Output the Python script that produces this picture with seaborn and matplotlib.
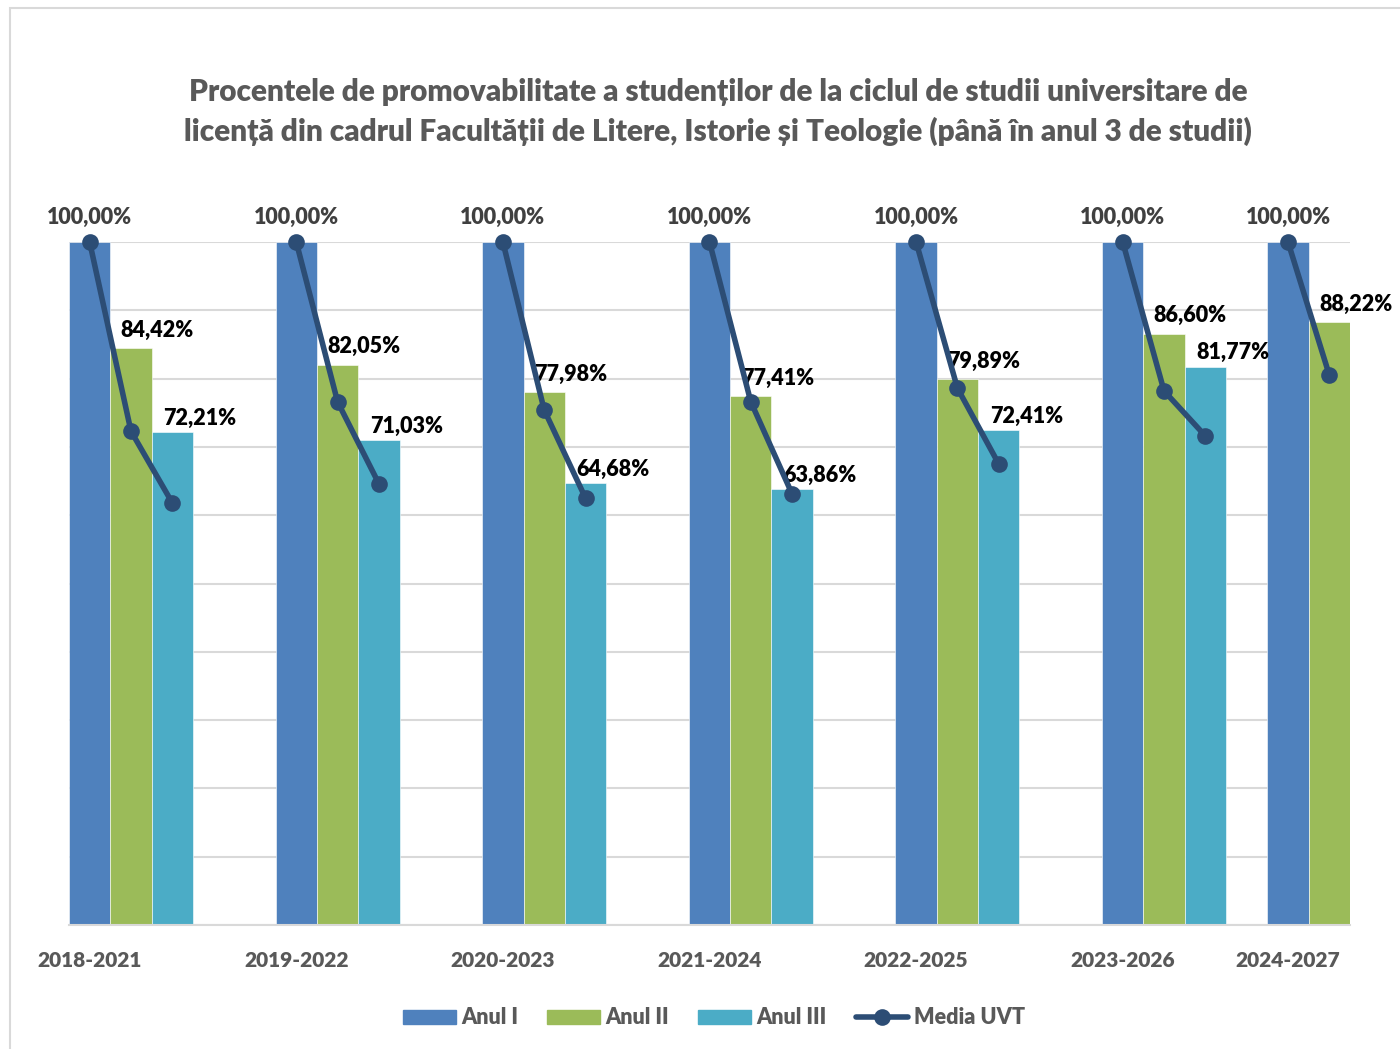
import numpy as np
import pandas as pd
import seaborn as sns
import matplotlib.pyplot as plt
from matplotlib.patches import Patch, Rectangle
from matplotlib.lines import Line2D

# date
perioade = ['2018-2021', '2019-2022', '2020-2023', '2021-2024', '2022-2025', '2023-2026', '2024-2027']
serii = ['Anul I', 'Anul II', 'Anul III']
anul_i = [100.00, 100.00, 100.00, 100.00, 100.00, 100.00, 100.00]
anul_ii = [84.42, 82.05, 77.98, 77.41, 79.89, 86.60, 88.22]
anul_iii = [72.21, 71.03, 64.68, 63.86, 72.41, 81.77, np.nan]
# media UVT (linia), pe fiecare an de studiu
media_i = [100, 100, 100, 100, 100, 100, 100]
media_ii = [72.3, 76.6, 75.4, 76.6, 78.6, 78.2, 80.5]
media_iii = [61.8, 64.6, 62.5, 63.1, 67.5, 71.6, np.nan]

culori = {'Anul I': '#4F81BD', 'Anul II': '#9BBB59', 'Anul III': '#4BACC6'}
culoare_linie = '#2C4D75'
gri = '#595959'
GR = 'heavy'

sns.set_style('white')
plt.rcParams['font.family'] = ['Lato', 'DejaVu Sans']
plt.rcParams['font.weight'] = GR

# pozitiile grupelor: 5 unitati intre grupe, ultima grupa (fara Anul III) mai apropiata
pos_grup = np.arange(len(perioade)) * 5
pos_grup[-1] -= 1

rows = []
linie = []
for i in range(len(perioade)):
    for j, (vals, med) in enumerate(zip([anul_i, anul_ii, anul_iii], [media_i, media_ii, media_iii])):
        if np.isnan(vals[i]):
            continue
        rows.append({'x': pos_grup[i] + j, 'val': vals[i], 'serie': serii[j]})
        linie.append({'x': pos_grup[i] + j, 'val': med[i], 'grup': i})
df = pd.DataFrame(rows)
dm = pd.DataFrame(linie)

fig = plt.figure(figsize=(14, 10.49), dpi=100)
ax = fig.add_axes([69 / 1400, 1 - 925 / 1049, (1350 - 69) / 1400, (925 - 242) / 1049])

ax.set_axisbelow(True)
ax.yaxis.grid(True, color='#D9D9D9', lw=1.5)
sns.barplot(data=df, x='x', y='val', hue='serie', palette=culori, native_scale=True,
            dodge=False, width=1.0, errorbar=None, saturation=1, legend=False,
            edgecolor='white', linewidth=0.4, ax=ax)
sns.lineplot(data=dm, x='x', y='val', units='grup', estimator=None, sort=False,
             color=culoare_linie, lw=4, marker='o', markersize=12, markeredgewidth=0,
             clip_on=False, legend=False, ax=ax, zorder=5)

ax.set_xlim(-0.5, 30.5)
ax.set_ylim(0, 100)
ax.set_yticks(np.arange(0, 101, 10))
ax.set_yticklabels([])
ax.set_xticks(pos_grup)
ax.set_xticklabels(perioade, fontsize=15, fontweight=GR, color=gri)
ax.tick_params(axis='both', length=0)
ax.tick_params(axis='x', pad=19)
ax.set_xlabel('')
ax.set_ylabel('')
for s in ['top', 'left', 'right']:
    ax.spines[s].set_visible(False)
ax.spines['bottom'].set_color('#D9D9D9')
ax.spines['bottom'].set_linewidth(1.5)

# etichete de date
for i in range(len(perioade)):
    ax.annotate(f'{anul_i[i]:.2f}%'.replace('.', ','), (pos_grup[i], anul_i[i]),
                xytext=(0, 18), textcoords='offset points', ha='center', va='center',
                fontsize=15.5, fontweight=GR, color='#404040', annotation_clip=False)
    ax.annotate(f'{anul_ii[i]:.2f}%'.replace('.', ','), (pos_grup[i] + 1, anul_ii[i]),
                xytext=(19, 13), textcoords='offset points', ha='center', va='center',
                fontsize=15.5, fontweight=GR, color='black', annotation_clip=False)
    if not np.isnan(anul_iii[i]):
        ax.annotate(f'{anul_iii[i]:.2f}%'.replace('.', ','), (pos_grup[i] + 2, anul_iii[i]),
                    xytext=(20, 10), textcoords='offset points', ha='center', va='center',
                    fontsize=15.5, fontweight=GR, color='black', annotation_clip=False)

fig.text(718 / 1400, 1 - 92 / 1049,
         'Procentele de promovabilitate a studenților de la ciclul de studii universitare de',
         ha='center', va='center', fontsize=21.4, fontweight=GR, color=gri)
fig.text(718 / 1400, 1 - 131 / 1049,
         'licență din cadrul Facultății de Litere, Istorie și Teologie (până în anul 3 de studii)',
         ha='center', va='center', fontsize=21.4, fontweight=GR, color=gri)

handles = [Patch(color=culori[s], label=s) for s in serii]
handles.append(Line2D([], [], color=culoare_linie, lw=4, marker='o', markersize=12,
                      markeredgewidth=0, label='Media UVT'))
leg = fig.legend(handles=handles, loc='center', bbox_to_anchor=(714 / 1400, 1 - 1018 / 1049),
                 ncol=4, frameon=False, fontsize=15.5, handlelength=2.45, handleheight=0.65,
                 handletextpad=0.25, columnspacing=1.35)
for t in leg.get_texts():
    t.set_color(gri)
    t.set_fontweight(GR)

fig.patches.append(Rectangle((10 / 1400, -0.01), 1.0, 0.9924 + 0.01, transform=fig.transFigure,
                             fill=False, edgecolor='#D9D9D9', lw=1.5))

fig.savefig('out.png', dpi=100)
